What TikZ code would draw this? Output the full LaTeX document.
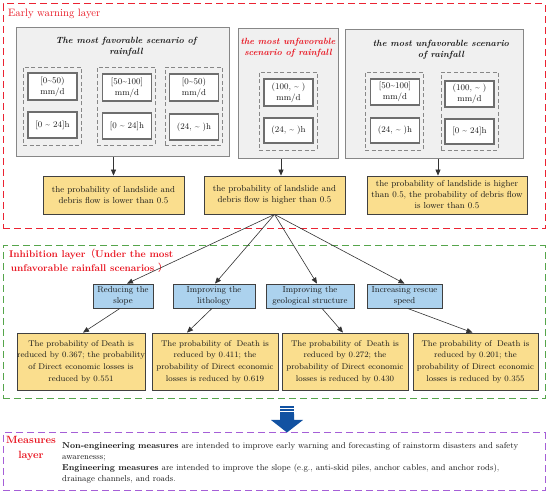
\documentclass[tikz,border=0pt]{standalone}
\usepackage{fontspec}
\setmainfont{Latin Modern Roman}
\newfontfamily\cjk{Noto Sans CJK SC}
\usetikzlibrary{arrows.meta,calc}
\definecolor{redL}{RGB}{235,35,50}
\definecolor{greenL}{RGB}{85,165,75}
\definecolor{purpL}{RGB}{165,95,215}
\definecolor{grayfill}{RGB}{240,240,240}
\definecolor{grayline}{RGB}{135,135,135}
\definecolor{innerline}{RGB}{110,110,110}
\definecolor{yel}{RGB}{250,222,142}
\definecolor{blu}{RGB}{172,210,238}
\definecolor{bigblue}{RGB}{18,82,162}
\definecolor{txtred}{RGB}{232,20,32}
\definecolor{txt}{RGB}{25,25,25}
\tikzset{
  layerbox/.style={draw=#1, line width=1pt, dash pattern=on 7pt off 4pt},
  graybox/.style={draw=grayline, fill=grayfill, line width=1pt},
  subbox/.style={draw=grayline, line width=0.9pt, dash pattern=on 4pt off 2.5pt},
  innerbox/.style={draw=innerline, fill=white, line width=1.1pt, inner sep=0pt,
    minimum width=49, align=center, font=\fontsize{8.7}{11}\selectfont, text=txt},
  yelbox/.style={draw=black!75, fill=yel, line width=0.8pt, inner sep=0pt,
    align=center, font=\fontsize{8.7}{11}\selectfont, text=txt},
  blubox/.style={draw=black!75, fill=blu, line width=0.8pt, inner sep=0pt,
    align=center, font=\fontsize{8.6}{11}\selectfont, text=txt, minimum height=24},
  zbox/.style={draw=black!75, fill=yel, line width=0.8pt, inner sep=0pt,
    align=center, font=\fontsize{8.3}{11.7}\selectfont, text=txt, minimum height=57},
  ttl/.style={align=center, font=\fontsize{9}{11}\selectfont\bfseries\itshape, inner sep=0pt},
  arr/.style={draw=black!80, line width=0.6pt, -{Triangle[length=6pt,width=5pt]}},
}
\begin{document}
\begin{tikzpicture}[x=1pt,y=-1pt]
\useasboundingbox (0,0) rectangle (550,494);
% layers
\node[layerbox=redL, minimum width=542, minimum height=225] (L1) at (274,116.5) {};
\node[layerbox=greenL, minimum width=542, minimum height=153] (L2) at (274,322.5) {};
\node[layerbox=purpL, minimum width=542, minimum height=58] (L3) at (274,462) {};
\node[anchor=west, text=txtred, font=\fontsize{10.7}{12}\selectfont, inner sep=0pt] (L1t) at (8,14) {Early warning layer};
\node[anchor=north west, text=txtred, font=\fontsize{9.8}{14}\selectfont\bfseries, align=left, inner sep=0pt] (L2t) at (9,249) {Inhibition layer{\cjk\mdseries （}Under the most\\[-0.5pt] \,unfavorable rainfall scenarios {\cjk\mdseries ）}};
\node[text=txtred, font=\fontsize{10.5}{15}\selectfont\bfseries, align=center, inner sep=0pt] (L3t) at (31,448.5) {Measures\\layer};
% gray scenario boxes
\node[graybox, minimum width=213, minimum height=129] (G1) at (122.5,92.5) {};
\node[graybox, minimum width=100, minimum height=130] (G2) at (288,94) {};
\node[graybox, minimum width=178, minimum height=129] (G3) at (434,94.5) {};
\node[ttl, text=txt] (T1) at (126,46.5) {The most favorable scenario of\\rainfall};
\node[ttl, text=txtred] (T2) at (288,47.5) {the most unfavorable\\scenario of rainfall};
\node[ttl, text=txt] (T3) at (441,49.5) {the most unfavorable scenario\\of rainfall};
% dashed sub boxes
\node[subbox, minimum width=58, minimum height=78] (S1a) at (52,106) {};
\node[subbox, minimum width=58, minimum height=78] (S1b) at (126,106) {};
\node[subbox, minimum width=57, minimum height=78] (S1c) at (193.5,106) {};
\node[subbox, minimum width=58, minimum height=78] (S2) at (288,111) {};
\node[subbox, minimum width=58, minimum height=78] (S3a) at (394,111) {};
\node[subbox, minimum width=57, minimum height=78] (S3b) at (469.5,111) {};
% inner boxes
\node[innerbox, minimum height=27] (S1aT) at (52.5,86.5) {[0\textasciitilde50)\\mm/d};
\node[innerbox, minimum height=26] (S1aB) at (52.5,125) {[0 \textasciitilde{} 24]h};
\node[innerbox, minimum height=27] (S1bT) at (127,87.5) {[50\textasciitilde100]\\mm/d};
\node[innerbox, minimum height=26] (S1bB) at (127,126) {[0 \textasciitilde{} 24]h};
\node[innerbox, minimum height=27] (S1cT) at (194,87.5) {[0\textasciitilde50)\\mm/d};
\node[innerbox, minimum height=26] (S1cB) at (194,127) {(24, \textasciitilde{} )h};
\node[innerbox, minimum height=27] (S2T) at (288.5,92.5) {(100, \textasciitilde{} )\\mm/d};
\node[innerbox, minimum height=25] (S2B) at (288.5,130.5) {(24, \textasciitilde{} )h};
\node[innerbox, minimum height=26] (S3aT) at (395,92) {[50\textasciitilde100]\\mm/d};
\node[innerbox, minimum height=25] (S3aB) at (395,130.5) {(24, \textasciitilde{} )h};
\node[innerbox, minimum height=26] (S3bT) at (469.5,94) {(100, \textasciitilde{} )\\mm/d};
\node[innerbox, minimum height=25] (S3bB) at (469.5,131.5) {[0 \textasciitilde{} 24]h};
% yellow result boxes
\node[yelbox, minimum width=141, minimum height=38] (Y1) at (113.5,195) {the probability of landslide and\\debris flow is lower than 0.5};
\node[yelbox, minimum width=141, minimum height=38] (Y2) at (274.5,195) {the probability of landslide and\\debris flow is higher than 0.5};
\node[yelbox, minimum width=160, minimum height=38] (Y3) at (447,195) {the probability of landslide is higher\\than 0.5, the probability of debris flow\\is lower than 0.5};
\draw[arr] (G1.south -| Y1.north) -- (Y1.north);
\draw[arr] ([xshift=-7]G2.south) -- ([xshift=-7]G2.south |- Y2.north);
\draw[arr] ([xshift=4]G3.south) -- ([xshift=4]G3.south |- Y3.north);
% measures
\node[blubox, minimum width=60] (B1) at (123,296) {Reducing the\\slope};
\node[blubox, minimum width=82] (B2) at (214,296) {Improving the\\lithology};
\node[blubox, minimum width=88] (B3) at (310,296) {Improving the\\geological structure};
\node[blubox, minimum width=75] (B4) at (404.5,296) {Increasing rescue\\speed};
\draw[arr] (Y2.south) -- ([xshift=4]B1.north);
\draw[arr] (Y2.south) -- ([xshift=1]B2.north);
\draw[arr] (Y2.south) -- ([xshift=7]B3.north);
\draw[arr] (Y2.south) -- (B4.north);
\node[zbox, minimum width=128] (Z1) at (81,361.5) {The probability of Death is\\reduced by 0.367; the probability\\of Direct economic losses is\\reduced by 0.551};
\node[zbox, minimum width=126] (Z2) at (215,361.5) {The probability of \;Death is\\reduced by 0.411; the\\probability of Direct economic\\losses is reduced by 0.619};
\node[zbox, minimum width=126] (Z3) at (345,361.5) {The probability of \;Death is\\reduced by 0.272; the\\probability of Direct economic\\losses is reduced by 0.430};
\node[zbox, minimum width=125] (Z4) at (475.5,361.5) {The probability of \;Death is\\reduced by 0.201; the\\probability of Direct economic\\losses is reduced by 0.355};
\draw[arr] ([xshift=-3]B1.south) -- ([xshift=2]Z1.north);
\draw[arr] ([xshift=-2]B2.south) -- ([xshift=-28]Z2.north);
\draw[arr] ([xshift=12]B3.south) -- ([xshift=-2]Z3.north);
\draw[arr] ([xshift=3]B4.south) -- ([xshift=-3]Z4.north);
% big blue arrow
\fill[bigblue] (280,414) -- (294,414) -- (294,420) -- (303,420) -- (287,432.5) -- (271,420) -- (280,420) -- cycle;
\fill[bigblue] (280,406) rectangle (294,407.6);
\fill[bigblue] (280,409) rectangle (294,410.6);
\fill[bigblue] (280,412) rectangle (294,413.6);
% measures text
\node[anchor=north west, align=left, inner sep=0pt, text=txt, font=\fontsize{8.55}{11}\selectfont] (MT) at (62,442) {\textbf{Non-engineering measures} are intended to improve early warning and forecasting of rainstorm disasters and safety\\awarenesss;\\\textbf{Engineering measures} are intended to improve the slope (e.g., anti-skid piles, anchor cables, and anchor rods),\\drainage channels, and roads.};
\end{tikzpicture}
\end{document}
